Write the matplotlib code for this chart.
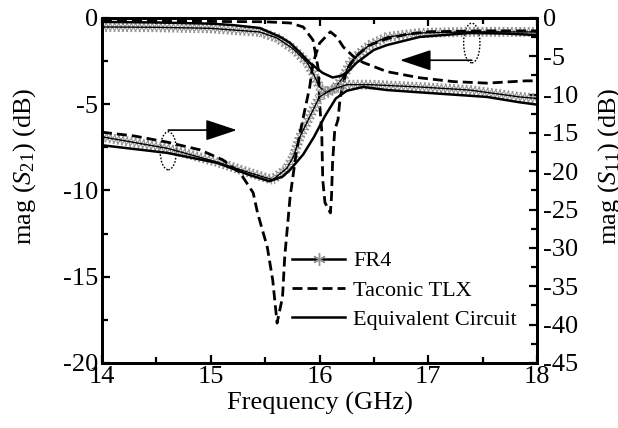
import matplotlib
matplotlib.use("Agg")
import matplotlib.pyplot as plt
import matplotlib.patheffects as pe
from matplotlib.lines import Line2D
from matplotlib.patches import Ellipse
from matplotlib.ticker import MultipleLocator

plt.rcParams["font.family"] = ["Liberation Serif", "DejaVu Serif"]
plt.rcParams["mathtext.fontset"] = "custom"
plt.rcParams["mathtext.rm"] = "Liberation Serif"
plt.rcParams["mathtext.it"] = "Liberation Serif:italic"
plt.rcParams["axes.unicode_minus"] = False

# S21 curves, left axis (dB)
f_s21_eq = [14.0, 14.5, 15.0, 15.2, 15.45, 15.64, 15.73, 15.82, 15.91, 16.03, 16.12,
            16.2, 16.25, 16.34, 16.5, 16.62, 16.92, 17.38, 17.7, 18.0]
s21_eq = [-0.23, -0.26, -0.33, -0.41, -0.58, -1.1, -1.45, -2.0, -2.6, -3.19, -3.45,
          -3.35, -3.19, -2.6, -1.85, -1.57, -1.1, -0.87, -0.9, -0.99]

f_s21_fr4 = [14.0, 14.5, 15.0, 15.45, 15.61, 15.76, 15.89, 15.94, 16.0, 16.07, 16.13,
             16.22, 16.28, 16.37, 16.46, 16.62, 16.92, 17.4, 18.0]
s21_fr4 = [-0.52, -0.54, -0.6, -0.81, -1.16, -1.8, -2.61, -3.19, -4.0, -4.35, -4.15,
           -3.42, -2.61, -2.03, -1.57, -1.1, -0.87, -0.8, -0.81]

f_s21_tlx = [14.0, 14.5, 15.0, 15.5, 15.73, 15.85, 15.94, 15.99, 16.0, 16.02, 16.03,
             16.05, 16.1, 16.11, 16.12, 16.14, 16.17, 16.19, 16.25, 16.34, 16.45,
             16.62, 16.8, 17.0, 17.5, 18.0]
s21_tlx = [-0.12, -0.15, -0.2, -0.22, -0.29, -0.52, -1.28, -3.0, -4.9, -6.5, -9.4,
           -10.7, -11.3, -10.4, -8.4, -6.5, -5.9, -4.6, -3.0, -2.2, -1.6,
           -1.2, -0.95, -0.8, -0.75, -0.75]

# S11 curves, right axis (dB)
f_s11_eq = [14.0, 14.6, 15.06, 15.36, 15.54, 15.66, 15.73, 15.85, 15.95, 16.05, 16.15,
            16.25, 16.4, 16.62, 16.92, 17.23, 17.54, 17.84, 18.0]
s11_eq = [-16.6, -17.6, -18.9, -20.5, -21.3, -20.7, -19.8, -17.8, -15.5, -12.8, -10.5,
          -9.5, -9.0, -9.4, -9.7, -10.0, -10.3, -11.0, -11.3]

f_s11_fr4 = [14.0, 14.6, 15.06, 15.36, 15.52, 15.57, 15.7, 15.76, 15.82, 15.91, 16.0,
             16.1, 16.25, 16.46, 16.92, 17.38, 17.84, 18.0]
s11_fr4 = [-15.5, -17.0, -18.8, -20.2, -20.9, -21.1, -19.6, -18.1, -15.5, -12.9, -10.3,
           -9.4, -8.7, -8.7, -9.0, -9.4, -10.3, -10.5]

f_s11_tlx = [14.0, 14.3, 14.6, 14.9, 15.11, 15.27, 15.39, 15.43, 15.52, 15.57, 15.61,
             15.66, 15.68, 15.73, 15.79, 15.85, 15.91, 15.94, 16.0, 16.1, 16.16, 16.22,
             16.31, 16.4, 16.62, 16.92, 17.23, 17.54, 17.9, 18.0]
s11_tlx = [-14.9, -15.4, -16.2, -17.2, -18.5, -20.2, -22.8, -25.4, -29.9, -34.2, -39.8,
           -36.4, -31.2, -23.3, -17.2, -13.0, -9.0, -5.9, -3.3, -1.8, -2.5, -3.8,
           -5.0, -5.8, -7.0, -7.8, -8.3, -8.5, -8.2, -8.2]

labels = ["FR4", "Taconic TLX", "Equivalent Circuit"]

GRAY = "#909090"
DASH = (0, (3.6, 1.8))

# asterisk-like texture along the FR4 curves
star_fx = [
    pe.TickedStroke(spacing=3.0, angle=60, length=1.2, foreground=GRAY, linewidth=0.8),
    pe.TickedStroke(spacing=3.0, angle=120, length=1.2, foreground=GRAY, linewidth=0.8),
    pe.TickedStroke(spacing=3.0, angle=-60, length=1.2, foreground=GRAY, linewidth=0.8),
    pe.TickedStroke(spacing=3.0, angle=-120, length=1.2, foreground=GRAY, linewidth=0.8),
    pe.Normal(),
]

fig = plt.figure(figsize=(6.18, 4.28), dpi=100)
ax = fig.add_axes([0.165, 0.152, 0.704, 0.806])
ax2 = ax.twinx()

ax.plot(f_s21_fr4, s21_fr4, color="k", lw=1.0, path_effects=star_fx)
ax.plot(f_s21_tlx, s21_tlx, color="k", lw=2.0, linestyle=DASH)
ax.plot(f_s21_eq, s21_eq, color="k", lw=1.8)

ax2.plot(f_s11_fr4, s11_fr4, color="k", lw=1.0, path_effects=star_fx)
ax2.plot(f_s11_tlx, s11_tlx, color="k", lw=2.0, linestyle=DASH)
ax2.plot(f_s11_eq, s11_eq, color="k", lw=1.8)

ax.set_xlim(14, 18)
ax.set_ylim(-20, 0)
ax2.set_ylim(-45, 0)

ax.xaxis.set_major_locator(MultipleLocator(1))
ax.xaxis.set_minor_locator(MultipleLocator(0.5))
ax.yaxis.set_major_locator(MultipleLocator(5))
ax.yaxis.set_minor_locator(MultipleLocator(2.5))
ax2.yaxis.set_major_locator(MultipleLocator(5))
ax2.yaxis.set_minor_locator(MultipleLocator(2.5))

for a in (ax, ax2):
    a.tick_params(which="both", direction="in", width=1.6, labelsize=19)
    a.tick_params(which="major", length=6)
    a.tick_params(which="minor", length=4)
    for s in a.spines.values():
        s.set_linewidth(2.0)
ax.tick_params(which="both", top=True)
ax.tick_params(axis="x", pad=2)
ax.tick_params(axis="y", pad=3)
ax2.tick_params(axis="y", pad=4)

ax.set_xlabel("Frequency (GHz)", fontsize=19, labelpad=3)
ax.set_ylabel("mag ($S_{21}$) (dB)", fontsize=19)
ax2.set_ylabel("mag ($S_{11}$) (dB)", fontsize=19)
ax.yaxis.set_label_coords(-0.147, 0.57)
ax2.yaxis.set_label_coords(1.135, 0.57)

# ellipses + arrows marking which axis each group belongs to
ax.add_patch(Ellipse((14.61, -7.7), 0.15, 2.2, fill=False, ls=(0, (1.2, 1.2)), lw=1.0))
ax.add_patch(Ellipse((17.40, -1.45), 0.15, 2.3, fill=False, ls=(0, (1.2, 1.2)), lw=1.0))
arrow = dict(arrowstyle="-|>,head_length=1.5,head_width=0.5", mutation_scale=13,
             color="k", lw=1.2, shrinkA=0, shrinkB=0)
ax.annotate("", xy=(15.24, -6.5), xytext=(14.61, -6.5), arrowprops=arrow)
ax.annotate("", xy=(16.74, -2.45), xytext=(17.40, -2.45), arrowprops=arrow)

handles = [
    Line2D([], [], color="k", lw=1.8, marker=(6, 2, 0), markersize=9,
           markeredgecolor=GRAY, markeredgewidth=1.0),
    Line2D([], [], color="k", lw=2.0, linestyle=DASH),
    Line2D([], [], color="k", lw=1.8),
]
ax.legend(handles, labels, loc="upper left", bbox_to_anchor=(0.437, 0.325),
          frameon=False, fontsize=16, handlelength=2.4, handletextpad=0.35,
          labelspacing=0.4, borderpad=0, borderaxespad=0, numpoints=1)

fig.savefig("out.png", dpi=100)
